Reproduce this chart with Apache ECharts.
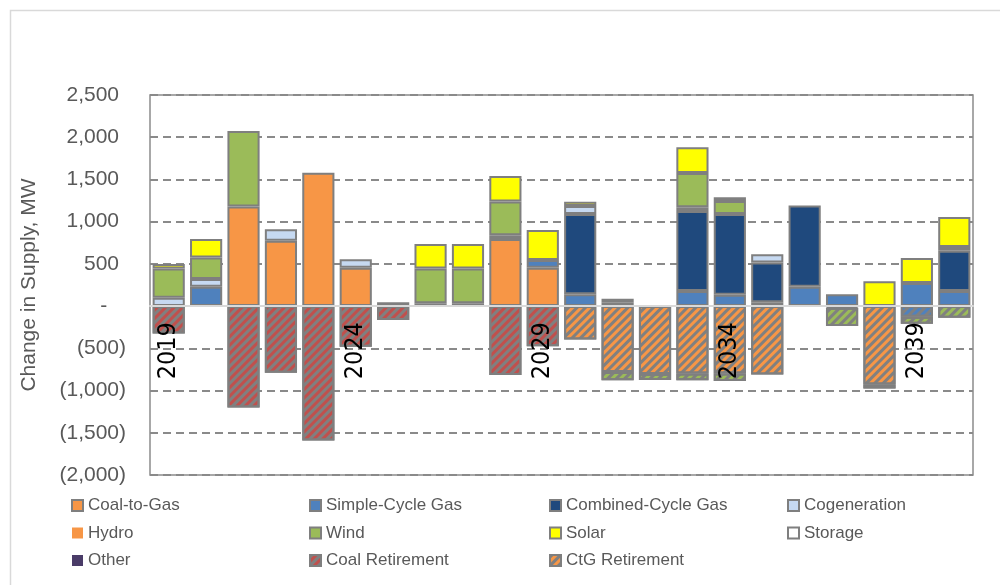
<!DOCTYPE html>
<html>
<head>
<meta charset="utf-8">
<script src="https://cdn.jsdelivr.net/npm/echarts@6/dist/echarts.min.js"></script>
<style>
  html, body { margin: 0; padding: 0; background: #ffffff; }
  #chart { width: 1000px; height: 585px; }
</style>
</head>
<body>
<div id="chart"></div>
<script>
// Annual change in generating supply (MW), 2019-2040
const years = ['2019','2020','2021','2022','2023','2024','2025','2026','2027','2028','2029',
               '2030','2031','2032','2033','2034','2035','2036','2037','2038','2039','2040'];

// Additions (positive)
const coalToGas     = [0, 0, 1180, 775, 1580, 455, 0, 0, 0, 795, 455, 0, 0, 0, 0, 0, 0, 0, 0, 0, 0, 0];
const simpleCycle   = [0, 230, 0, 0, 0, 0, 0, 35, 0, 45, 90, 140, 0, 0, 180, 135, 45, 230, 140, 0, 275, 180];
const combinedCycle = [0, 0, 0, 0, 0, 0, 0, 0, 0, 0, 0, 950, 0, 0, 945, 955, 470, 960, 0, 0, 0, 475];
const cogeneration  = [100, 90, 0, 135, 0, 100, 45, 0, 35, 0, 0, 95, 40, 0, 45, 0, 100, 0, 0, 0, 0, 0];
const hydro         = [0, 0, 0, 0, 0, 0, 0, 0, 0, 0, 0, 0, 0, 0, 0, 0, 0, 0, 0, 0, 0, 0];
const wind          = [345, 255, 895, 0, 0, 0, 0, 410, 410, 400, 0, 0, 0, 0, 405, 155, 0, 0, 0, 0, 0, 45];
const solar         = [55, 220, 0, 0, 0, 0, 0, 290, 290, 300, 355, 50, 0, 0, 305, 45, 0, 0, 0, 295, 295, 355];
const storage       = [0, 0, 0, 0, 0, 0, 0, 0, 0, 0, 0, 0, 47, 0, 0, 0, 0, 0, 0, 0, 0, 0];
const other         = [0, 0, 0, 0, 0, 0, 0, 0, 0, 0, 0, 0, 0, 0, 0, 0, 0, 0, 0, 0, 0, 0];

// Retirements (negative)
const coalRetirement = [-325, 0, -1200, -790, -1590, -480, -165, 0, 0, -815, -475, 0, 0, 0, 0, 0, 0, 0, 0, 0, 0, 0];
const ctgRetirement  = [0, 0, 0, 0, 0, 0, 0, 0, 0, 0, 0, -395, -780, -805, -797, -797, -810, 0, 0, -928, 0, 0];
const gasRetirement  = [0, 0, 0, 0, 0, 0, 0, 0, 0, 0, 0, 0, 0, 0, 0, 0, 0, 0, -20, -47, -125, 0];
const windRetirement = [0, 0, 0, 0, 0, 0, 0, 0, 0, 0, 0, 0, -97, -70, -80, -90, 0, 0, -215, 0, -85, -138];

// Value axis ticks
const yMin = -2000, yMax = 2500, yStep = 500;

const EDGE = '#7F7F7F';
const FONT = "'Liberation Sans', Arial, sans-serif";

// Plot box (px)
const GRID_TOP = 95, GRID_BOTTOM = 110, CHART_H = 585;
const plotH = CHART_H - GRID_TOP - GRID_BOTTOM;
// distance from the plot's bottom edge up to the zero line
const zeroLift = plotH * (0 - yMin) / (yMax - yMin);

function hatch(stripe) {
  return { symbol: 'rect', symbolSize: 1, dashArrayX: [1, 0], dashArrayY: [3, 3],
           rotation: -Math.PI / 4, color: stripe };
}

function bar(name, values, color, opts) {
  opts = opts || {};
  const itemStyle = { color: color, borderColor: EDGE, borderWidth: opts.noBorder ? 0 : 2 };
  if (opts.decal) itemStyle.decal = opts.decal;
  return {
    name: name, type: 'bar', stack: 'supply', barCategoryGap: '14%',
    itemStyle: itemStyle,
    emphasis: { disabled: true },
    data: values.map(v => (v === 0 ? '-' : v))
  };
}

const series = [
  bar('Coal-to-Gas', coalToGas, '#F79646'),
  bar('Simple-Cycle Gas', simpleCycle, '#4F81BD'),
  bar('Combined-Cycle Gas', combinedCycle, '#1F497D'),
  bar('Cogeneration', cogeneration, '#C6D9F1'),
  bar('Hydro', hydro, '#F79646', { noBorder: true }),
  bar('Wind', wind, '#9BBB59'),
  bar('Solar', solar, '#FFFF00'),
  bar('Storage', storage, '#FFFFFF'),
  bar('Other', other, '#4A3C68', { noBorder: true }),
  bar('Coal Retirement', coalRetirement, '#C0504D', { decal: hatch('#808080') }),
  bar('CtG Retirement', ctgRetirement, '#F79646', { decal: hatch('#808080') }),
  bar('Gas Retirement', gasRetirement, '#4F81BD', { decal: hatch('#808080') }),
  bar('Wind Retirement', windRetirement, '#9BBB59', { decal: hatch('#808080') })
];

const legendText = { fontSize: 17, color: '#595959', fontFamily: FONT };
function legendCol(left, names) {
  return {
    orient: 'vertical', left: left, top: 497, padding: 0,
    itemWidth: 11, itemHeight: 11, itemGap: 10.5,
    selectedMode: false, textStyle: legendText, icon: 'rect',
    data: names
  };
}

const chart = echarts.init(document.getElementById('chart'), null, { renderer: 'canvas' });
chart.setOption({
  animation: false,
  backgroundColor: '#ffffff',
  textStyle: { fontFamily: FONT },
  graphic: [{
    type: 'rect', left: 8, top: 8, z: -10, silent: true,
    shape: { width: 1010, height: 600 },
    style: { fill: 'none', stroke: '#D9D9D9', lineWidth: 1.5 }
  }],
  grid: {
    left: 150, right: 27, top: GRID_TOP, bottom: GRID_BOTTOM,
    show: true, borderColor: '#8C8C8C', borderWidth: 1.5, backgroundColor: 'transparent'
  },
  legend: [
    legendCol(71, ['Coal-to-Gas', 'Hydro', 'Other']),
    legendCol(309, ['Simple-Cycle Gas', 'Wind', 'Coal Retirement']),
    legendCol(549, ['Combined-Cycle Gas', 'Solar', 'CtG Retirement']),
    legendCol(787, ['Cogeneration', 'Storage'])
  ],
  xAxis: {
    type: 'category', data: years, z: 10,
    position: 'bottom', offset: -zeroLift,
    axisLine: { onZero: false, lineStyle: { color: '#D9D9D9', width: 2 } },
    axisTick: { show: false },
    axisLabel: {
      interval: 4, rotate: 90, margin: 16, color: '#000000', fontSize: 25,
      fontFamily: "'Liberation Sans Narrow', 'DejaVu Sans Condensed', Arial, sans-serif"
    },
    splitLine: { show: false }
  },
  yAxis: {
    type: 'value', min: yMin, max: yMax, interval: yStep,
    name: 'Change in Supply, MW', nameLocation: 'middle', nameGap: 110,
    nameTextStyle: { fontSize: 21, color: '#595959', fontFamily: FONT },
    axisLine: { show: false }, axisTick: { show: false },
    axisLabel: {
      margin: 24, fontSize: 21, color: '#595959',
      formatter: function (v) {
        if (v === 0) return '-{h|0)}';
        const s = Math.abs(v).toLocaleString('en-US');
        return v < 0 ? '(' + s + ')' : s + '{h|)}';
      },
      rich: { h: { fontSize: 21, color: 'rgba(0,0,0,0)' } }
    },
    splitLine: { lineStyle: { color: '#8A8A8A', width: 2, type: [8, 5] } }
  },
  series: series
});
</script>
</body>
</html>
